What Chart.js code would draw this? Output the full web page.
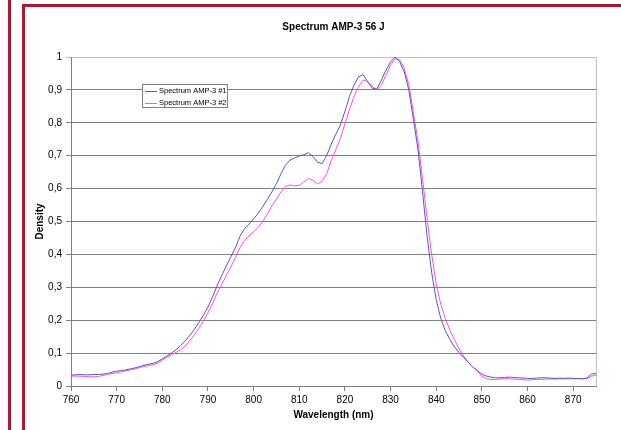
<!DOCTYPE html>
<html>
<head>
<meta charset="utf-8">
<script src="https://cdn.jsdelivr.net/npm/chart.js@4/dist/chart.umd.min.js"></script>
<style>
  html, body { margin: 0; padding: 0; background: #fff; }
  #wrap { position: relative; width: 621px; height: 430px; }
</style>
</head>
<body>
<div id="wrap"><canvas id="canvas-spectrum"></canvas></div>
<script>
// wavelengths in nm
const wavelengths = [
  760, 761, 762, 763, 764, 765, 766, 767, 768, 769,
  770, 771, 772, 773, 774, 775, 776, 777, 778, 779,
  780, 781, 782, 783, 784, 785, 786, 787, 788, 789,
  790, 791, 792, 793, 794, 795, 796, 797, 798, 799,
  800, 801, 802, 803, 804, 805, 806, 807, 808, 809,
  810, 811, 812, 813, 814, 815, 816, 817, 818, 819,
  820, 821, 822, 823, 824, 825, 826, 827, 828, 829,
  830, 831, 832, 833, 834, 835, 836, 837, 838, 839,
  840, 841, 842, 843, 844, 845, 846, 847, 848, 849,
  850, 851, 852, 853, 854, 855, 856, 857, 858, 859,
  860, 861, 862, 863, 864, 865, 866, 867, 868, 869,
  870, 871, 872, 873, 874, 875,
];

const xTicks = [760, 770, 780, 790, 800, 810, 820, 830, 840, 850, 860, 870];

const spectrum1 = [
  0.033, 0.034, 0.035, 0.034, 0.034, 0.035, 0.035, 0.036, 0.038, 0.042,
  0.045, 0.047, 0.049, 0.052, 0.055, 0.059, 0.063, 0.066, 0.069, 0.074,
  0.082, 0.091, 0.100, 0.110, 0.123, 0.137, 0.153, 0.172, 0.193, 0.215,
  0.240, 0.270, 0.305, 0.335, 0.365, 0.392, 0.420, 0.455, 0.478, 0.492,
  0.508, 0.525, 0.545, 0.567, 0.590, 0.615, 0.645, 0.672, 0.687, 0.693,
  0.699, 0.703, 0.709, 0.697, 0.680, 0.676, 0.700, 0.735, 0.765, 0.793,
  0.835, 0.880, 0.915, 0.940, 0.946, 0.925, 0.905, 0.902, 0.930, 0.960,
  0.985, 1.000, 0.985, 0.955, 0.900, 0.810, 0.720, 0.590, 0.455, 0.345,
  0.262, 0.205, 0.168, 0.141, 0.119, 0.102, 0.087, 0.072, 0.058, 0.047,
  0.036, 0.030, 0.027, 0.025, 0.025, 0.026, 0.027, 0.026, 0.025, 0.024,
  0.023, 0.023, 0.024, 0.025, 0.025, 0.024, 0.023, 0.024, 0.023, 0.024,
  0.023, 0.023, 0.022, 0.024, 0.036, 0.038,
];

const spectrum2 = [
  0.030, 0.030, 0.030, 0.029, 0.028, 0.028, 0.029, 0.032, 0.035, 0.038,
  0.040, 0.043, 0.046, 0.049, 0.052, 0.056, 0.059, 0.062, 0.065, 0.070,
  0.078, 0.087, 0.095, 0.102, 0.110, 0.122, 0.137, 0.155, 0.175, 0.197,
  0.222, 0.250, 0.282, 0.308, 0.335, 0.362, 0.390, 0.420, 0.442, 0.456,
  0.469, 0.482, 0.500, 0.523, 0.548, 0.568, 0.590, 0.607, 0.611, 0.608,
  0.610, 0.620, 0.631, 0.625, 0.614, 0.622, 0.645, 0.685, 0.718, 0.752,
  0.797, 0.840, 0.880, 0.910, 0.930, 0.925, 0.910, 0.900, 0.915, 0.945,
  0.975, 0.995, 0.992, 0.965, 0.915, 0.830, 0.745, 0.630, 0.510, 0.400,
  0.310, 0.248, 0.205, 0.170, 0.140, 0.113, 0.091, 0.073, 0.058, 0.046,
  0.030, 0.022, 0.020, 0.020, 0.021, 0.022, 0.022, 0.021, 0.020, 0.019,
  0.018, 0.019, 0.020, 0.020, 0.021, 0.021, 0.021, 0.021, 0.022, 0.022,
  0.022, 0.022, 0.022, 0.022, 0.030, 0.033,
];

const seriesNames = ["Spectrum AMP-3 #1", "Spectrum AMP-3 #2"];
const seriesColors = ["#5a5ab0", "#ff4cff"];

const FONT = "Arial, 'Liberation Sans', sans-serif";

// frame, right edge of plot and the boxed legend
const excelBits = {
  id: "excelBits",
  beforeDraw(chart) {
    const c = chart.ctx;
    c.save();
    c.fillStyle = "#fff";
    c.fillRect(0, 0, chart.width, chart.height);
    c.fillStyle = "#b3152f";
    c.fillRect(8, 0, 3, chart.height);
    c.fillRect(22, 4, 3, chart.height - 4);
    c.fillRect(22, 4, chart.width - 22, 3);
    c.restore();
  },
  afterDraw(chart) {
    const c = chart.ctx;
    const a = chart.chartArea;
    c.save();
    c.strokeStyle = "#c0c0c0";
    c.lineWidth = 1;
    c.beginPath();
    c.moveTo(Math.round(a.right) + 0.5, a.top);
    c.lineTo(Math.round(a.right) + 0.5, a.bottom);
    c.stroke();

    // legend
    const lx = 142, ly = 84, lw = 85, lh = 23;
    c.fillStyle = "#fff";
    c.fillRect(lx, ly, lw, lh);
    c.strokeStyle = "#808080";
    c.strokeRect(lx + 0.5, ly + 0.5, lw, lh);
    c.font = "7.5px " + FONT;
    c.textBaseline = "middle";
    chart.data.datasets.forEach((ds, i) => {
      const y = ly + 7 + i * 11.5;
      c.strokeStyle = ds.borderColor;
      c.beginPath();
      c.moveTo(lx + 3, Math.round(y) + 0.5);
      c.lineTo(lx + 15, Math.round(y) + 0.5);
      c.stroke();
      c.fillStyle = "#000";
      c.fillText(ds.label, lx + 17, y);
    });
    c.restore();
  },
};

window.onload = function () {
  const ctx = document.getElementById("canvas-spectrum");

  const data = {
    datasets: [spectrum1, spectrum2].map((vals, i) => ({
      label: seriesNames[i],
      data: vals.map((v, j) => ({ x: wavelengths[j], y: v })),
      borderColor: seriesColors[i],
      backgroundColor: seriesColors[i],
      borderWidth: 1,
      pointRadius: 0,
      tension: 0,
    })),
  };

  const config = {
    type: "line",
    data,
    options: {
      responsive: false,
      animation: false,
      layout: { padding: { left: 30, right: 25, top: 21, bottom: 9 } },
      scales: {
        x: {
          type: "linear",
          min: 760,
          max: 875,
          afterFit: (s) => { s.height = 35; },
          afterBuildTicks: (s) => { s.ticks = xTicks.map((v) => ({ value: v })); },
          ticks: {
            color: "#000",
            padding: 3,
            autoSkip: false,
            maxRotation: 0,
            font: { family: FONT, size: 10 },
            callback: (v) => String(v),
          },
          grid: { drawOnChartArea: false, color: "#808080", tickLength: 5 },
          border: { color: "#808080" },
          title: {
            display: true,
            text: "Wavelength (nm)",
            color: "#000",
            font: { family: FONT, size: 10, weight: "bold" },
            padding: { top: 0, bottom: 0 },
          },
        },
        y: {
          min: 0,
          max: 1,
          afterFit: (s) => { s.width = 41; },
          ticks: {
            stepSize: 0.1,
            color: "#000",
            padding: 4,
            font: { family: FONT, size: 10 },
            callback: (v) => String(Math.round(v * 10) / 10).replace(".", ","),
          },
          grid: {
            color: (c) => (c.tick && c.tick.value === 1 ? "#c0c0c0" : "#808080"),
            tickLength: 5,
          },
          border: { color: "#808080" },
          title: {
            display: true,
            text: "Density",
            color: "#000",
            font: { family: FONT, size: 10, weight: "bold" },
            padding: { top: 4, bottom: 0 },
          },
        },
      },
      plugins: {
        legend: { display: false },
        tooltip: { enabled: false },
        title: {
          display: true,
          text: "Spectrum AMP-3 56 J",
          fullSize: false,
          color: "#000",
          font: { family: FONT, size: 10, weight: "bold" },
          padding: { top: 0, bottom: 24 },
        },
      },
    },
    plugins: [excelBits],
  };

  ctx.width = 621;
  ctx.height = 430;
  const spectrumChart = new Chart(ctx, config);
};
</script>
</body>
</html>
